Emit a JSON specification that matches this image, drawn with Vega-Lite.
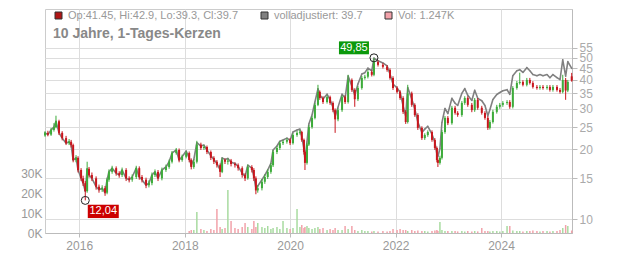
{
  "$schema": "https://vega.github.io/schema/vega-lite/v6.json",
  "width": 527,
  "height": 224,
  "autosize": {"type": "none"},
  "padding": {"left": 45, "top": 9, "right": 60, "bottom": 20},
  "background": "white",
  "title": {"text": "10 Jahre, 1-Tages-Kerzen", "anchor": "start", "frame": "group", "orient": "top", "offset": -32, "dx": 8, "fontSize": 14, "fontWeight": "bold", "color": "#888888", "font": "Liberation Sans"},
  "config": {
    "font": "Liberation Sans",
    "view": {"stroke": "#cccccc"},
    "axis": {"labelColor": "#999999", "labelFontSize": 12, "gridColor": "#dddddd", "domainColor": "#bbbbbb", "tickColor": "#bbbbbb"}
  },
  "data": {"values": [
    {"d":"2015-05-09","o":23.0,"h":24.0,"l":22.7,"c":23.6,"a":23.6},
    {"d":"2015-05-29","o":23.6,"h":24.1,"l":22.8,"c":23.2,"a":23.2},
    {"d":"2015-06-20","o":23.2,"h":24.8,"l":22.9,"c":24.3,"a":24.3},
    {"d":"2015-07-10","o":24.3,"h":26.0,"l":23.9,"c":25.0,"a":25.0},
    {"d":"2015-07-24","o":25.0,"h":28.0,"l":24.7,"c":26.5,"a":26.5},
    {"d":"2015-08-14","o":26.5,"h":26.9,"l":23.1,"c":23.6,"a":23.6},
    {"d":"2015-09-05","o":23.6,"h":24.0,"l":21.9,"c":22.4,"a":22.4},
    {"d":"2015-10-02","o":22.4,"h":22.9,"l":20.9,"c":21.3,"a":21.3},
    {"d":"2015-10-23","o":21.3,"h":22.2,"l":20.9,"c":21.6,"a":21.6},
    {"d":"2015-11-06","o":21.6,"h":22.0,"l":20.4,"c":20.9,"a":20.9},
    {"d":"2015-11-20","o":20.9,"h":21.2,"l":17.6,"c":18.0,"a":18.0},
    {"d":"2015-12-10","o":18.0,"h":18.9,"l":17.6,"c":18.4,"a":18.4},
    {"d":"2015-12-24","o":18.4,"h":18.7,"l":15.9,"c":16.3,"a":16.3},
    {"d":"2016-01-14","o":16.3,"h":16.6,"l":14.6,"c":15.0,"a":15.0},
    {"d":"2016-01-28","o":15.0,"h":15.4,"l":13.9,"c":14.3,"a":14.3},
    {"d":"2016-02-12","o":14.3,"h":14.6,"l":12.04,"c":13.2,"a":13.2},
    {"d":"2016-02-25","o":13.2,"h":17.7,"l":13.0,"c":16.5,"a":16.5},
    {"d":"2016-03-09","o":16.5,"h":16.8,"l":15.1,"c":15.5,"a":15.5},
    {"d":"2016-03-29","o":15.5,"h":15.9,"l":14.6,"c":15.0,"a":15.0},
    {"d":"2016-04-27","o":15.0,"h":15.3,"l":13.4,"c":13.8,"a":13.8},
    {"d":"2016-05-17","o":13.8,"h":14.1,"l":13.0,"c":13.4,"a":13.4},
    {"d":"2016-06-08","o":13.4,"h":14.0,"l":13.1,"c":13.6,"a":13.6},
    {"d":"2016-06-28","o":13.6,"h":13.9,"l":12.6,"c":13.0,"a":13.0},
    {"d":"2016-07-12","o":13.0,"h":15.1,"l":12.8,"c":14.8,"a":14.8},
    {"d":"2016-07-25","o":14.8,"h":16.4,"l":14.5,"c":16.0,"a":16.0},
    {"d":"2016-08-16","o":16.0,"h":17.0,"l":15.7,"c":16.6,"a":16.6},
    {"d":"2016-09-13","o":16.6,"h":16.9,"l":15.4,"c":15.8,"a":15.8},
    {"d":"2016-10-04","o":15.8,"h":16.1,"l":15.1,"c":15.5,"a":15.5},
    {"d":"2016-10-24","o":15.5,"h":16.7,"l":15.2,"c":16.3,"a":16.3},
    {"d":"2016-11-21","o":16.3,"h":16.6,"l":14.6,"c":15.0,"a":15.0},
    {"d":"2016-12-12","o":15.0,"h":15.3,"l":14.4,"c":14.8,"a":14.8},
    {"d":"2017-01-02","o":14.8,"h":15.6,"l":14.5,"c":15.2,"a":15.2},
    {"d":"2017-01-30","o":15.2,"h":17.0,"l":14.9,"c":16.6,"a":16.6},
    {"d":"2017-02-20","o":16.6,"h":16.9,"l":14.8,"c":15.2,"a":15.2},
    {"d":"2017-03-11","o":15.2,"h":15.5,"l":14.4,"c":14.8,"a":14.8},
    {"d":"2017-04-08","o":14.8,"h":15.1,"l":13.6,"c":14.0,"a":14.0},
    {"d":"2017-04-28","o":14.0,"h":14.7,"l":13.7,"c":14.3,"a":14.3},
    {"d":"2017-05-19","o":14.3,"h":15.9,"l":14.0,"c":15.5,"a":15.5},
    {"d":"2017-06-09","o":15.5,"h":16.4,"l":15.2,"c":16.0,"a":16.0},
    {"d":"2017-06-30","o":16.0,"h":16.3,"l":14.6,"c":15.0,"a":15.0},
    {"d":"2017-07-27","o":15.0,"h":16.7,"l":14.7,"c":16.3,"a":16.3},
    {"d":"2017-08-24","o":16.3,"h":17.2,"l":16.0,"c":16.8,"a":16.8},
    {"d":"2017-09-15","o":16.8,"h":18.1,"l":16.5,"c":17.7,"a":17.7},
    {"d":"2017-10-05","o":17.7,"h":19.7,"l":17.4,"c":19.3,"a":19.3},
    {"d":"2017-11-03","o":19.3,"h":20.3,"l":19.0,"c":19.9,"a":19.9},
    {"d":"2017-11-23","o":19.9,"h":20.2,"l":17.6,"c":18.0,"a":18.0},
    {"d":"2017-12-14","o":18.0,"h":19.0,"l":17.7,"c":18.6,"a":18.6},
    {"d":"2018-01-11","o":18.6,"h":19.7,"l":18.3,"c":19.3,"a":19.7},
    {"d":"2018-02-01","o":19.3,"h":19.6,"l":17.6,"c":18.0,"a":18.4,"v":1.0},
    {"d":"2018-02-15","o":18.0,"h":18.3,"l":16.4,"c":16.8,"a":17.1,"v":1.5},
    {"d":"2018-03-05","o":16.8,"h":18.1,"l":16.5,"c":17.7,"a":18.1,"v":1.5},
    {"d":"2018-03-26","o":17.7,"h":21.8,"l":17.4,"c":21.0,"a":21.4,"v":10.5},
    {"d":"2018-04-23","o":21.0,"h":21.4,"l":19.9,"c":20.3,"a":20.7,"v":2.0},
    {"d":"2018-05-14","o":20.3,"h":20.9,"l":19.9,"c":20.5,"a":20.9,"v":1.5},
    {"d":"2018-06-04","o":20.5,"h":20.8,"l":19.1,"c":19.5,"a":19.9,"v":1.0},
    {"d":"2018-07-01","o":19.5,"h":19.8,"l":18.0,"c":18.4,"a":18.8,"v":2.0},
    {"d":"2018-07-22","o":18.4,"h":18.7,"l":17.3,"c":17.7,"a":18.1,"v":1.5},
    {"d":"2018-08-12","o":17.7,"h":18.0,"l":16.7,"c":17.1,"a":17.4,"v":12.0},
    {"d":"2018-09-03","o":17.1,"h":17.4,"l":15.2,"c":16.0,"a":16.3,"v":3.0},
    {"d":"2018-09-17","o":16.0,"h":18.4,"l":15.8,"c":18.0,"a":18.4,"v":2.0},
    {"d":"2018-10-07","o":18.0,"h":18.3,"l":17.3,"c":17.7,"a":18.1,"v":2.5},
    {"d":"2018-10-27","o":17.7,"h":18.3,"l":17.2,"c":17.9,"a":18.3,"v":21.5},
    {"d":"2018-11-18","o":17.9,"h":18.2,"l":16.9,"c":17.3,"a":17.6,"v":6.0},
    {"d":"2018-12-15","o":17.3,"h":17.6,"l":16.7,"c":17.1,"a":17.4,"v":2.5},
    {"d":"2019-01-06","o":17.1,"h":17.4,"l":16.2,"c":16.6,"a":16.9,"v":2.0},
    {"d":"2019-02-03","o":16.6,"h":16.9,"l":15.1,"c":15.5,"a":15.8,"v":3.0},
    {"d":"2019-02-23","o":15.5,"h":15.8,"l":14.6,"c":15.0,"a":15.3,"v":5.0},
    {"d":"2019-03-14","o":15.0,"h":17.2,"l":14.8,"c":16.8,"a":17.1,"v":3.0},
    {"d":"2019-04-11","o":16.8,"h":17.1,"l":15.9,"c":16.3,"a":16.6,"v":2.0},
    {"d":"2019-04-25","o":16.3,"h":16.6,"l":14.6,"c":15.0,"a":15.3,"v":6.0},
    {"d":"2019-05-09","o":15.0,"h":15.3,"l":12.8,"c":13.3,"a":13.6,"v":3.0},
    {"d":"2019-05-22","o":13.3,"h":14.0,"l":13.0,"c":13.6,"a":13.9,"v":5.0},
    {"d":"2019-06-20","o":13.6,"h":14.9,"l":13.3,"c":14.5,"a":14.8,"v":3.0},
    {"d":"2019-07-10","o":14.5,"h":15.6,"l":14.2,"c":15.2,"a":15.5,"v":2.5},
    {"d":"2019-07-30","o":15.2,"h":16.4,"l":14.9,"c":16.0,"a":16.3,"v":3.5},
    {"d":"2019-08-21","o":16.0,"h":17.5,"l":15.7,"c":17.1,"a":17.4,"v":2.0},
    {"d":"2019-09-05","o":17.1,"h":19.9,"l":16.8,"c":19.5,"a":19.9,"v":2.5},
    {"d":"2019-10-02","o":19.5,"h":20.7,"l":19.1,"c":20.3,"a":20.7,"v":3.0},
    {"d":"2019-10-22","o":20.3,"h":21.7,"l":19.9,"c":21.3,"a":21.7,"v":2.0},
    {"d":"2019-11-13","o":21.3,"h":22.0,"l":20.9,"c":21.6,"a":22.0,"v":6.0},
    {"d":"2019-12-10","o":21.6,"h":22.4,"l":21.2,"c":22.0,"a":22.4,"v":2.5},
    {"d":"2020-01-01","o":22.0,"h":22.4,"l":20.9,"c":21.3,"a":21.9,"v":2.0},
    {"d":"2020-01-21","o":21.3,"h":23.5,"l":21.0,"c":23.1,"a":23.8,"v":2.5},
    {"d":"2020-02-18","o":23.1,"h":24.1,"l":22.7,"c":23.6,"a":24.3,"v":12.0},
    {"d":"2020-03-09","o":23.6,"h":24.3,"l":23.2,"c":23.8,"a":24.5,"v":3.0},
    {"d":"2020-03-22","o":23.8,"h":24.1,"l":21.6,"c":22.0,"a":22.7,"v":4.0},
    {"d":"2020-04-06","o":22.0,"h":22.3,"l":19.0,"c":19.5,"a":20.1,"v":2.5},
    {"d":"2020-04-13","o":19.5,"h":19.8,"l":16.3,"c":17.5,"a":18.0,"v":3.0},
    {"d":"2020-04-27","o":17.5,"h":21.4,"l":17.2,"c":21.0,"a":21.6,"v":3.5},
    {"d":"2020-05-10","o":21.0,"h":25.5,"l":20.7,"c":25.0,"a":25.8,"v":2.5},
    {"d":"2020-06-01","o":25.0,"h":27.9,"l":24.6,"c":27.4,"a":28.2,"v":2.0},
    {"d":"2020-06-21","o":27.4,"h":31.8,"l":27.0,"c":31.2,"a":32.1,"v":2.5},
    {"d":"2020-07-12","o":31.2,"h":38.1,"l":30.8,"c":35.5,"a":36.6,"v":3.0},
    {"d":"2020-07-25","o":35.5,"h":36.0,"l":32.8,"c":33.4,"a":34.4,"v":2.0},
    {"d":"2020-08-16","o":33.4,"h":34.0,"l":31.5,"c":32.1,"a":33.1,"v":2.5},
    {"d":"2020-09-13","o":32.1,"h":34.3,"l":31.6,"c":33.7,"a":34.7,"v":1.5},
    {"d":"2020-10-04","o":33.7,"h":34.2,"l":31.2,"c":31.8,"a":32.8,"v":2.0},
    {"d":"2020-10-24","o":31.8,"h":32.3,"l":29.0,"c":29.6,"a":30.5,"v":1.5},
    {"d":"2020-11-08","o":29.6,"h":30.1,"l":23.6,"c":27.0,"a":27.8,"v":2.5},
    {"d":"2020-11-28","o":27.0,"h":30.2,"l":26.5,"c":29.6,"a":30.5,"v":1.5},
    {"d":"2020-12-26","o":29.6,"h":34.3,"l":29.1,"c":33.7,"a":34.7,"v":1.5},
    {"d":"2021-01-16","o":33.7,"h":34.3,"l":31.5,"c":32.1,"a":33.4,"v":3.5},
    {"d":"2021-02-06","o":32.1,"h":42.1,"l":31.6,"c":40.0,"a":41.6,"v":2.0},
    {"d":"2021-03-04","o":40.0,"h":40.6,"l":35.5,"c":36.2,"a":37.6,"v":3.5},
    {"d":"2021-03-24","o":36.2,"h":36.8,"l":30.6,"c":33.0,"a":34.3,"v":1.5},
    {"d":"2021-04-15","o":33.0,"h":37.6,"l":32.4,"c":36.9,"a":38.4,"v":1.0},
    {"d":"2021-05-12","o":36.9,"h":41.6,"l":36.3,"c":40.8,"a":42.4,"v":1.5},
    {"d":"2021-06-02","o":40.8,"h":42.1,"l":40.1,"c":41.3,"a":43.0,"v":1.0},
    {"d":"2021-06-23","o":41.3,"h":44.1,"l":40.6,"c":43.3,"a":45.0,"v":1.0},
    {"d":"2021-07-20","o":43.3,"h":44.0,"l":41.4,"c":42.1,"a":43.8,"v":0.8},
    {"d":"2021-08-04","o":42.1,"h":49.85,"l":41.5,"c":47.8,"a":49.7,"v":1.0},
    {"d":"2021-09-01","o":47.8,"h":48.6,"l":45.7,"c":46.5,"a":48.4,"v":0.8},
    {"d":"2021-10-05","o":46.5,"h":47.3,"l":44.8,"c":45.6,"a":47.4,"v":1.0},
    {"d":"2021-11-03","o":45.6,"h":46.4,"l":43.4,"c":44.2,"a":46.0,"v":0.8},
    {"d":"2021-11-23","o":44.2,"h":44.9,"l":40.1,"c":40.8,"a":42.4,"v":1.0},
    {"d":"2021-12-14","o":40.8,"h":41.5,"l":36.2,"c":36.9,"a":38.4,"v":2.0},
    {"d":"2022-01-11","o":36.9,"h":37.6,"l":34.9,"c":35.5,"a":36.9,"v":1.5},
    {"d":"2022-02-01","o":35.5,"h":36.1,"l":32.8,"c":33.4,"a":35.4,"v":2.0},
    {"d":"2022-02-22","o":33.4,"h":34.0,"l":28.5,"c":29.1,"a":30.8,"v":1.5},
    {"d":"2022-03-12","o":29.1,"h":29.6,"l":25.8,"c":26.3,"a":27.9,"v":1.5},
    {"d":"2022-03-26","o":26.3,"h":38.1,"l":25.9,"c":35.0,"a":37.1,"v":1.0},
    {"d":"2022-04-23","o":35.0,"h":35.6,"l":30.6,"c":31.2,"a":33.1,"v":1.5},
    {"d":"2022-05-14","o":31.2,"h":31.7,"l":27.7,"c":28.2,"a":29.9,"v":1.0},
    {"d":"2022-06-04","o":28.2,"h":28.7,"l":24.3,"c":24.8,"a":26.3,"v":1.2},
    {"d":"2022-07-02","o":24.8,"h":25.2,"l":22.0,"c":22.4,"a":23.7,"v":1.0},
    {"d":"2022-07-22","o":22.4,"h":23.5,"l":22.0,"c":23.1,"a":24.5,"v":1.0},
    {"d":"2022-08-12","o":23.1,"h":24.2,"l":22.7,"c":23.8,"a":25.2,"v":0.8},
    {"d":"2022-09-10","o":23.8,"h":24.2,"l":21.6,"c":22.0,"a":23.3,"v":1.0},
    {"d":"2022-09-30","o":22.0,"h":22.4,"l":19.9,"c":20.3,"a":21.5,"v":1.2},
    {"d":"2022-10-14","o":20.3,"h":20.6,"l":17.6,"c":18.0,"a":19.1,"v":1.5},
    {"d":"2022-10-21","o":18.0,"h":18.3,"l":16.8,"c":17.5,"a":18.6,"v":1.0},
    {"d":"2022-11-04","o":17.5,"h":18.8,"l":17.2,"c":18.4,"a":20.2,"v":5.5},
    {"d":"2022-11-18","o":18.4,"h":24.3,"l":18.1,"c":23.8,"a":26.2,"v":1.5},
    {"d":"2022-12-09","o":23.8,"h":27.9,"l":23.4,"c":27.4,"a":30.1,"v":1.0},
    {"d":"2022-12-29","o":27.4,"h":27.9,"l":25.5,"c":26.0,"a":28.6,"v":1.0},
    {"d":"2023-01-26","o":26.0,"h":30.9,"l":25.6,"c":30.3,"a":33.3,"v":1.0},
    {"d":"2023-02-17","o":30.3,"h":30.9,"l":28.3,"c":28.8,"a":31.7,"v":1.0},
    {"d":"2023-03-07","o":28.8,"h":29.3,"l":27.7,"c":28.2,"a":31.0,"v":0.8},
    {"d":"2023-04-05","o":28.2,"h":32.4,"l":27.7,"c":31.8,"a":35.0,"v":1.0},
    {"d":"2023-04-25","o":31.8,"h":34.0,"l":31.2,"c":33.4,"a":36.7,"v":0.8},
    {"d":"2023-05-16","o":33.4,"h":34.0,"l":30.6,"c":31.2,"a":34.3,"v":1.0},
    {"d":"2023-06-13","o":31.2,"h":31.8,"l":29.0,"c":29.6,"a":32.6,"v":0.8},
    {"d":"2023-07-03","o":29.6,"h":33.4,"l":29.1,"c":32.8,"a":36.1,"v":1.0},
    {"d":"2023-07-24","o":32.8,"h":33.4,"l":29.7,"c":30.3,"a":33.3,"v":0.8},
    {"d":"2023-08-21","o":30.3,"h":30.9,"l":28.3,"c":28.8,"a":32.5,"v":2.5},
    {"d":"2023-09-12","o":28.8,"h":29.3,"l":26.9,"c":27.4,"a":31.0,"v":1.0},
    {"d":"2023-10-02","o":27.4,"h":27.9,"l":24.3,"c":24.8,"a":28.0,"v":1.0},
    {"d":"2023-10-16","o":24.8,"h":26.8,"l":24.4,"c":26.3,"a":29.7,"v":0.8},
    {"d":"2023-11-06","o":26.3,"h":29.7,"l":25.9,"c":29.1,"a":32.9,"v":1.0},
    {"d":"2023-12-03","o":29.1,"h":31.2,"l":28.6,"c":30.6,"a":34.6,"v":1.0},
    {"d":"2023-12-24","o":30.6,"h":31.8,"l":30.0,"c":31.2,"a":35.3,"v":0.8},
    {"d":"2024-01-14","o":31.2,"h":32.4,"l":30.6,"c":31.8,"a":35.9,"v":1.0},
    {"d":"2024-02-12","o":31.8,"h":32.7,"l":31.2,"c":32.1,"a":36.3,"v":3.5},
    {"d":"2024-03-02","o":32.1,"h":32.7,"l":30.0,"c":30.6,"a":34.6,"v":3.5},
    {"d":"2024-03-23","o":30.6,"h":37.6,"l":30.1,"c":36.9,"a":41.7,"v":1.2},
    {"d":"2024-04-20","o":36.9,"h":39.6,"l":36.3,"c":38.8,"a":43.8,"v":1.0},
    {"d":"2024-05-10","o":38.8,"h":43.0,"l":38.2,"c":39.2,"a":44.3,"v":1.0},
    {"d":"2024-06-01","o":39.2,"h":39.9,"l":37.5,"c":38.1,"a":43.1,"v":0.8},
    {"d":"2024-06-28","o":38.1,"h":40.8,"l":37.5,"c":40.0,"a":45.2,"v":1.0},
    {"d":"2024-07-19","o":40.0,"h":40.8,"l":38.2,"c":38.8,"a":43.8,"v":1.0},
    {"d":"2024-08-09","o":38.8,"h":39.5,"l":36.7,"c":37.3,"a":42.2,"v":1.2},
    {"d":"2024-09-06","o":37.3,"h":38.0,"l":36.3,"c":36.9,"a":41.7,"v":1.0},
    {"d":"2024-09-27","o":36.9,"h":38.0,"l":36.3,"c":37.3,"a":42.2,"v":0.8},
    {"d":"2024-10-18","o":37.3,"h":38.0,"l":36.3,"c":36.9,"a":41.7,"v":1.0},
    {"d":"2024-11-15","o":36.9,"h":38.0,"l":36.3,"c":37.3,"a":42.2,"v":1.0},
    {"d":"2024-12-05","o":37.3,"h":38.0,"l":35.6,"c":36.2,"a":40.9,"v":0.8},
    {"d":"2024-12-26","o":36.2,"h":38.0,"l":35.6,"c":37.3,"a":42.2,"v":1.0},
    {"d":"2025-01-23","o":37.3,"h":38.0,"l":35.6,"c":36.2,"a":40.9,"v":1.0},
    {"d":"2025-02-13","o":36.2,"h":36.9,"l":34.9,"c":35.5,"a":40.1,"v":1.5},
    {"d":"2025-03-04","o":35.5,"h":42.1,"l":35.0,"c":40.0,"a":48.9,"v":2.5},
    {"d":"2025-03-24","o":40.0,"h":40.8,"l":32.8,"c":36.0,"a":41.5,"v":4.0},
    {"d":"2025-04-08","o":36.0,"h":40.0,"l":35.4,"c":39.2,"a":48.0,"v":3.5},
    {"d":"2025-05-05","o":41.45,"h":42.9,"l":39.3,"c":39.7,"a":44.9,"v":1.247}
  ]},
  "encoding": {
    "x": {"field": "d", "type": "temporal", "title": null,
      "scale": {"domain": [{"year": 2015, "month": 5, "date": 9}, {"year": 2025, "month": 5, "date": 7}]},
      "axis": {"values": [{"year": 2016}, {"year": 2018}, {"year": 2020}, {"year": 2022}, {"year": 2024}], "format": "%Y", "tickSize": 4, "labelPadding": 3, "grid": true, "labelFlush": false}}
  },
  "layer": [
    {
      "transform": [{"filter": "isValid(datum.v)"}],
      "mark": {"type": "rule", "strokeWidth": 1.5},
      "encoding": {
        "y": {"field": "v", "type": "quantitative", "title": null, "scale": {"domain": [0, 112], "nice": false},
          "axis": {"orient": "left", "values": [0, 10, 20, 30], "labelExpr": "datum.value + 'K'", "grid": false, "ticks": false, "domain": false, "labelPadding": 3}},
        "y2": {"datum": 0},
        "color": {"condition": {"test": "datum.c < datum.o", "value": "#f2a2aa"}, "value": "#a8dba0"}
      }
    },
    {
      "layer": [
        {
          "data": {"values": [{"band": "header"}]},
          "mark": {"type": "rect", "fill": "#d9d9d9", "opacity": 0.72},
          "encoding": {
            "x": {"datum": {"year": 2015, "month": 5, "date": 9}, "type": "temporal"},
            "x2": {"datum": {"year": 2025, "month": 5, "date": 7}},
            "y": {"datum": 71.3, "type": "quantitative", "scale": {"type": "log", "domain": [8.7, 81.1], "nice": false}},
            "y2": {"datum": 81.1}
          }
        },
        {
          "mark": {"type": "trail", "color": "#808080"},
          "encoding": {
            "y": {"field": "a", "type": "quantitative", "title": null, "scale": {"type": "log", "domain": [8.7, 81.1], "nice": false},
              "axis": {"orient": "right", "values": [10, 15, 20, 25, 30, 35, 40, 45, 50, 55], "format": "d", "tickSize": 5, "labelPadding": 2, "grid": true, "labelColor": "#aaaaaa", "labelOverlap": false}},
            "size": {"value": 1.6}
          }
        },
        {
          "mark": {"type": "point", "shape": "square", "filled": true, "size": 1, "opacity": 1},
          "encoding": {
            "y": {"field": "a", "type": "quantitative", "title": null, "scale": {"type": "log", "domain": [8.7, 81.1], "nice": false}},
            "color": {"datum": "volladjustiert: 39.7",
              "scale": {"domain": ["Op:41.45, Hi:42.9, Lo:39.3, Cl:39.7", "volladjustiert: 39.7", "Vol: 1.247K"], "range": ["#b01515", "#808080", "#f2a2aa"]},
              "legend": {"orient": "none", "legendX": 8, "legendY": 1, "direction": "horizontal", "title": null, "symbolType": "square", "symbolSize": 49, "symbolStrokeColor": "#333333", "symbolStrokeWidth": 1, "symbolOpacity": 1, "labelFontSize": 11, "labelColor": "#999999", "columnPadding": 20, "labelLimit": 400, "labelOffset": 4}}
          }
        },
        {
          "mark": {"type": "rule", "strokeWidth": 1},
          "encoding": {
            "y": {"field": "l", "type": "quantitative", "title": null, "scale": {"type": "log", "domain": [8.7, 81.1], "nice": false}},
            "y2": {"field": "h"},
            "color": {"condition": {"test": "datum.c < datum.o", "value": "#c8161d"}, "value": "#3dab3a"}
          }
        },
        {
          "mark": {"type": "rule", "strokeWidth": 2},
          "encoding": {
            "y": {"field": "o", "type": "quantitative", "title": null, "scale": {"type": "log", "domain": [8.7, 81.1], "nice": false}},
            "y2": {"field": "c"},
            "color": {"condition": {"test": "datum.c < datum.o", "value": "#c8161d"}, "value": "#3dab3a"}
          }
        },
        {
          "data": {"values": [
            {"d": "2021-08-04", "p": 49.85, "t": "49,85", "k": "max"},
            {"d": "2016-02-12", "p": 12.04, "t": "12,04", "k": "min"}
          ]},
          "layer": [
            {
              "mark": {"type": "point", "shape": "circle", "filled": false, "stroke": "#222222", "strokeWidth": 1, "size": 64, "opacity": 1},
              "encoding": {"y": {"field": "p", "type": "quantitative", "title": null, "scale": {"type": "log", "domain": [8.7, 81.1], "nice": false}}}
            },
            {
              "transform": [{"filter": "datum.k == 'max'"}],
              "layer": [
                {
                  "mark": {"type": "point", "shape": "M-1,-0.43H1V0.43H-1Z", "filled": true, "fill": "#0b990b", "opacity": 1, "size": 900, "xOffset": -20, "yOffset": -10},
                  "encoding": {"y": {"field": "p", "type": "quantitative", "title": null, "scale": {"type": "log", "domain": [8.7, 81.1], "nice": false}}}
                },
                {
                  "mark": {"type": "text", "color": "white", "fontSize": 11, "align": "center", "baseline": "middle", "dx": -20, "dy": -10},
                  "encoding": {"y": {"field": "p", "type": "quantitative", "title": null, "scale": {"type": "log", "domain": [8.7, 81.1], "nice": false}}, "text": {"field": "t"}}
                }
              ]
            },
            {
              "transform": [{"filter": "datum.k == 'min'"}],
              "layer": [
                {
                  "mark": {"type": "point", "shape": "M-1,-0.43H1V0.43H-1Z", "filled": true, "fill": "#cc0000", "opacity": 1, "size": 961, "xOffset": 18, "yOffset": 11},
                  "encoding": {"y": {"field": "p", "type": "quantitative", "title": null, "scale": {"type": "log", "domain": [8.7, 81.1], "nice": false}}}
                },
                {
                  "mark": {"type": "text", "color": "white", "fontSize": 11, "align": "center", "baseline": "middle", "dx": 18, "dy": 11},
                  "encoding": {"y": {"field": "p", "type": "quantitative", "title": null, "scale": {"type": "log", "domain": [8.7, 81.1], "nice": false}}, "text": {"field": "t"}}
                }
              ]
            }
          ]
        }
      ]
    }
  ],
  "resolve": {"scale": {"y": "independent"}, "axis": {"y": "independent"}}
}
